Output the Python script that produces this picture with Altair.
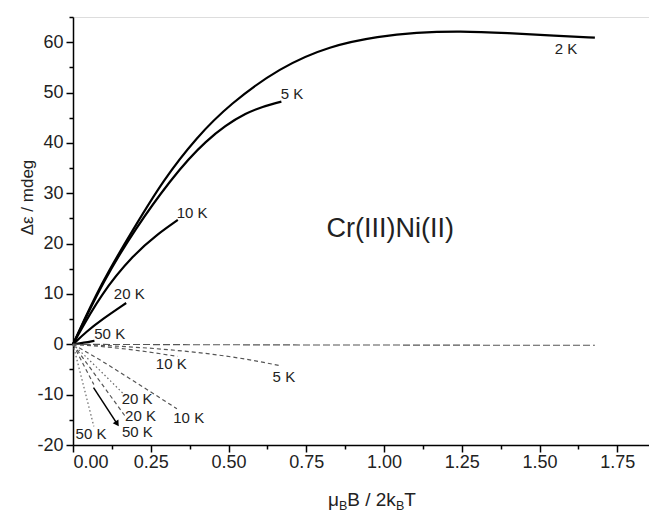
import altair as alt
import pandas as pd

FONT = "Liberation Sans"

# ---- positive (solid) curves ----
x_2K = [0, 0.09, 0.198, 0.29, 0.397, 0.504, 0.665, 0.826, 0.987, 1.10, 1.244, 1.40, 1.55, 1.678]
y_2K = [0, 12.1, 23.3, 32.6, 41.1, 47.7, 55.0, 59.3, 61.2, 61.9, 62.2, 61.8, 61.3, 60.9]
x_5K = [0, 0.10, 0.20, 0.311, 0.423, 0.558, 0.67]
y_5K = [0, 12.9, 22.9, 32.5, 40.5, 46.4, 48.2]
x_10K = [0, 0.09, 0.198, 0.27, 0.337]
y_10K = [0, 10.1, 18.0, 21.8, 24.7]
x_20K = [0, 0.045, 0.09, 0.171]
y_20K = [0, 2.6, 4.8, 8.2]
x_50K = [0, 0.035, 0.069]
y_50K = [0, 0.3, 0.7]

# ---- negative (broken) curves ----
xn_2K = [0, 0.5, 1.0, 1.678]
yn_2K = [0, -0.1, -0.15, -0.2]
xn_5K = [0, 0.15, 0.33, 0.45, 0.56, 0.67]
yn_5K = [0, -0.4, -1.2, -2.0, -3.0, -4.3]
xn_10Ka = [0, 0.15, 0.336]
yn_10Ka = [0, -0.8, -2.4]
xn_10Kb = [0, 0.1, 0.2, 0.334]
yn_10Kb = [0, -3.6, -7.5, -12.8]
xn_20Ka = [0, 0.08, 0.168]
yn_20Ka = [0, -4.8, -10.2]
xn_20Kb = [0, 0.08, 0.168]
yn_20Kb = [0, -6.8, -14.3]
xn_50Ka = [0, 0.035, 0.067]
yn_50Ka = [0, -8.5, -16.3]
xn_50Kb = [0, 0.035, 0.067]
yn_50Kb = [0, -4.2, -8.0]

# arrow
arrow_x = [0.066, 0.142]
arrow_y = [-8.6, -15.8]

# labels
lab_text = ["2 K", "5 K", "10 K", "20 K", "50 K",
            "10 K", "5 K", "20 K", "20 K", "10 K", "50 K", "50 K"]
lab_x = [1.585, 0.704, 0.383, 0.181, 0.118,
         0.316, 0.678, 0.206, 0.217, 0.372, 0.058, 0.207]
lab_y = [58.7, 49.7, 26.1, 10.0, 2.0,
         -4.0, -6.4, -10.8, -14.3, -14.7, -17.8, -17.5]

rows = []
def add(name, style, xs, ys):
    for i, (a, b) in enumerate(zip(xs, ys)):
        rows.append(dict(curve=name, style=style, x=a, y=b, i=i))

add("2K", "solid", x_2K, y_2K)
add("5K", "solid", x_5K, y_5K)
add("10K", "solid", x_10K, y_10K)
add("20K", "solid", x_20K, y_20K)
add("50K", "solid", x_50K, y_50K)
add("n2K", "longdash", xn_2K, yn_2K)
add("n5K", "dash", xn_5K, yn_5K)
add("n10Ka", "dash", xn_10Ka, yn_10Ka)
add("n10Kb", "dash", xn_10Kb, yn_10Kb)
add("n20Ka", "dot", xn_20Ka, yn_20Ka)
add("n20Kb", "dash", xn_20Kb, yn_20Kb)
add("n50Ka", "dot", xn_50Ka, yn_50Ka)
add("n50Kb", "dash", xn_50Kb, yn_50Kb)
add("arrow", "arrow", arrow_x, arrow_y)
df = pd.DataFrame(rows)

labels = pd.DataFrame({"x": lab_x, "y": lab_y, "t": lab_text})

x_vals = [i * 0.125 for i in range(15)]
y_vals = list(range(-20, 66, 5))

xaxis = alt.Axis(
    values=x_vals, title=None, grid=False,
    labelExpr="abs(datum.value*4 - round(datum.value*4)) > 0.01 ? '' : format(datum.value, '.2f')",
    tickSize={"condition": {"test": "abs(datum.value*4 - round(datum.value*4)) > 0.01", "value": 4}, "value": 7},
    tickColor="black", tickWidth=1.5, domainColor="black", domainWidth=1.5,
    labelFont=FONT, labelFontSize=18, labelColor="#222", labelPadding=1,
)
yaxis = alt.Axis(
    values=y_vals, grid=False, title="Δε / mdeg",
    labelExpr="datum.value % 10 == 0 ? '' + datum.value : ''",
    tickSize={"condition": {"test": "datum.value % 10 != 0", "value": 4}, "value": 7},
    tickColor="black", tickWidth=1.5, domainColor="black", domainWidth=1.5,
    labelFont=FONT, labelFontSize=18, labelColor="#222", labelPadding=3,
    titleFont=FONT, titleFontSize=17, titleFontWeight="normal", titleColor="#222",
    titleX=-46, titleY=180, titleAngle=-90, titleBaseline="middle", titleAlign="center",
)

X = alt.X("x:Q", scale=alt.Scale(domain=[0, 1.852], nice=False, zero=False), axis=xaxis)
Y = alt.Y("y:Q", scale=alt.Scale(domain=[-20, 65], nice=False, zero=False), axis=yaxis)

base = alt.Chart(df)

solid = base.transform_filter("datum.style == 'solid'").mark_line(
    color="black", strokeWidth=2.2, interpolate="basis"
).encode(X, Y, detail="curve:N", order="i:Q")

longdash = base.transform_filter("datum.style == 'longdash'").mark_line(
    color="#555", strokeWidth=1.1, strokeDash=[7, 3], interpolate="monotone"
).encode(X, Y, detail="curve:N", order="i:Q")

dash = base.transform_filter("datum.style == 'dash'").mark_line(
    color="#555", strokeWidth=1.2, strokeDash=[4, 3], interpolate="monotone"
).encode(X, Y, detail="curve:N", order="i:Q")

dot = base.transform_filter("datum.style == 'dot'").mark_line(
    color="#666", strokeWidth=1.2, strokeDash=[1.5, 2.5], interpolate="monotone"
).encode(X, Y, detail="curve:N", order="i:Q")

arrow_line = base.transform_filter("datum.style == 'arrow'").mark_line(
    color="black", strokeWidth=1.5
).encode(X, Y, order="i:Q")

arrow_head = base.transform_filter("datum.style == 'arrow' && datum.i == 1").mark_point(
    shape="triangle-up", filled=True, color="black", size=45, angle=147, opacity=1
).encode(X, Y)

text = alt.Chart(labels).mark_text(
    font=FONT, fontSize=15, color="#222", align="center", baseline="middle"
).encode(X, Y, text="t:N")

title_df = pd.DataFrame({"x": [0.815], "y": [21.4], "t": ["Cr(III)Ni(II)"]})
cr = alt.Chart(title_df).mark_text(
    font=FONT, fontSize=27, color="#222", align="left", baseline="alphabetic"
).encode(X, Y, text="t:N")

one = pd.DataFrame({"a": [0]})
def piece(txt, px, py, fs):
    return alt.Chart(one).mark_text(
        font=FONT, fontSize=fs, color="#222", align="left", baseline="alphabetic"
    ).encode(x=alt.value(px), y=alt.value(py), text=alt.value(txt))

xt = [
    piece("μ", 255, 489, 19),
    piece("B", 265.9, 493, 12.5),
    piece("B / 2k", 274.2, 489, 19),
    piece("B", 322.9, 493, 12.5),
    piece("T", 331.2, 489, 19),
]

chart = alt.layer(solid, longdash, dash, dot, arrow_line, arrow_head, text, cr, *xt).properties(
    width=576, height=428,
    autosize=alt.AutoSizeParams(type="none"),
    padding={"left": 73, "top": 17, "right": 0, "bottom": 71},
).configure_view(stroke=None).configure(background="white")

chart.save("out.html", embed_options={"renderer": "svg", "actions": False})
